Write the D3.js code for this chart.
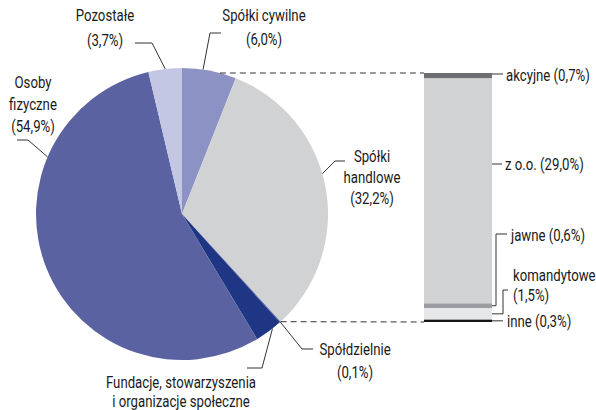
<!DOCTYPE html>
<html>
<head>
<meta charset="utf-8">
<script src="https://cdn.jsdelivr.net/npm/d3@7/dist/d3.min.js"></script>
<style>
  html, body { margin: 0; padding: 0; background: #fff; }
  svg { display: block; }
  text { font-family: Roboto, "Noto Sans", sans-serif; font-size: 16.5px; fill: #1a1a1a; }
</style>
</head>
<body>
<svg id="chart" width="596" height="410"></svg>
<script>
// Pie: legal form shares (%), clockwise from 12 o'clock
const pieCategories = ["Spółki cywilne", "Spółki handlowe", "Spółdzielnie",
  "Fundacje, stowarzyszenia i organizacje społeczne", "Osoby fizyczne", "Pozostałe"];
const pieValues = [6.0, 32.2, 0.1, 3.1, 54.9, 3.7];
const pieColors = ["#8d92c4", "#d1d2d4", "#4a55a0", "#1f3684", "#5b62a1", "#c4c7e3"];
const pieLabelLines = [
  ["Spółki cywilne", "(6,0%)"],
  ["Spółki", "handlowe", "(32,2%)"],
  ["Spółdzielnie", "(0,1%)"],
  ["Fundacje, stowarzyszenia", "i organizacje społeczne"],
  ["Osoby", "fizyczne", "(54,9%)"],
  ["Pozostałe", "(3,7%)"]
];

// Breakdown of "Spółki handlowe", stacked top to bottom
const barCategories = ["akcyjne", "z o.o.", "jawne", "komandytowe", "inne"];
const barValues = [0.7, 29.0, 0.6, 1.5, 0.3];
const barColors = ["#6d6e71", "#d1d2d4", "#9c9da0", "#e6e7e8", "#161616"];
const barLabelLines = [
  ["akcyjne (0,7%)"],
  ["z o.o. (29,0%)"],
  ["jawne (0,6%)"],
  ["komandytowe", "(1,5%)"],
  ["inne (0,3%)"]
];

const svg = d3.select("#chart");
const cx = 182, cy = 214, R = 146;
const ink = "#333";
const narrow = 0.8; // horizontal squeeze for a condensed look

// multi-line label, centred on (x, y) of its first line
function label(x, y, lines, anchor, lh) {
  const t = svg.append("text")
    .attr("text-anchor", anchor)
    .attr("transform", `translate(${x},${y}) scale(${narrow},1)`);
  lines.forEach((s, k) => {
    t.append("tspan").attr("x", 0).attr("y", k * lh).attr("dy", "0.35em").text(s);
  });
}

// ---- pie ----
const pie = d3.pie().sort(null).value(d => d)(pieValues);
const arc = d3.arc().innerRadius(0).outerRadius(R);
const pg = svg.append("g").attr("transform", `translate(${cx},${cy})`);
pg.selectAll("path").data(pie).join("path")
  .attr("d", arc)
  .attr("fill", (d, i) => pieColors[i]);

const deg = Math.PI / 180;
const onRim = a => [cx + R * Math.sin(a), cy - R * Math.cos(a)];

// leader start angle on the rim, elbow points, text centre of first line
const pieLayout = [
  { angle: 8.3 * deg, path: [[210, 33], [221, 33]], x: 264, y: 15, lh: 24 },
  { angle: 74 * deg, path: [[335, 161], [345, 161]], x: 372, y: 156, lh: 21 },
  { angle: null, path: [[302, 349], [313, 349]], x: 355, y: 349, lh: 23 },
  { angle: 141.7 * deg, path: [[262, 368], [247, 368]], x: 181, y: 382, lh: 19 },
  { angle: 293 * deg, path: [[28, 140], [17, 140]], x: 33, y: 82, lh: 22 },
  { angle: -6.6 * deg, path: [[152, 43], [135, 43]], x: 105, y: 15, lh: 25 }
];

const line = d3.line();
pie.forEach((d, i) => {
  const L = pieLayout[i];
  const a = L.angle == null ? (d.startAngle + d.endAngle) / 2 : L.angle;
  svg.append("path").attr("d", line([onRim(a), ...L.path]))
    .attr("fill", "none").attr("stroke", ink).attr("stroke-width", 1);
  label(L.x, L.y, pieLabelLines[i], "middle", L.lh);
});

// ---- stacked bar ----
const barX = 424, barW = 68, barTop = 73, barBottom = 322;
const barTotal = d3.sum(barValues);
const y = d3.scaleLinear().domain([0, barTotal]).range([barTop, barBottom]);
const stacked = [];
let acc = 0;
barValues.forEach((v, i) => { stacked.push({ y0: acc, y1: acc + v, i }); acc += v; });

svg.append("g").selectAll("rect").data(stacked).join("rect")
  .attr("x", barX).attr("width", barW)
  .attr("y", d => y(d.y0)).attr("height", d => y(d.y1) - y(d.y0))
  .attr("fill", d => barColors[d.i]);

// dashed connectors between the "Spółki handlowe" slice and the bar
const hand = pie[1];
const topY = y(0);
const topX = cx + Math.sqrt(R * R - (cy - topY) * (cy - topY));
const endPt = onRim(hand.endAngle);
const dash = g => g.attr("fill", "none").attr("stroke", ink).attr("stroke-width", 1).attr("stroke-dasharray", "6,4");
svg.append("path").attr("d", line([[topX, topY], [barX, topY]])).call(dash);
svg.append("path").attr("d", line([endPt, [barX, y(barTotal)]])).call(dash);

// bar labels with leaders
const bx = barX + barW;
const mid = i => y((stacked[i].y0 + stacked[i].y1) / 2);
const barLayout = [
  { pts: () => [[bx, 74], [503, 74]], x: 506, y: 75 },
  { pts: () => [[bx, 164], [502, 164]], x: 505, y: 164 },
  { pts: () => [[bx, mid(2)], [496, mid(2)], [496, 234], [507, 234]], x: 511, y: 235 },
  { pts: () => [[bx, mid(3)], [503, mid(3)], [503, 290], [508, 290]], x: 513, y: 275 },
  { pts: () => [[bx, mid(4)], [503, mid(4)]], x: 507, y: 321 }
];
barLayout.forEach((L, i) => {
  svg.append("path").attr("d", line(L.pts()))
    .attr("fill", "none").attr("stroke", ink).attr("stroke-width", 1);
  label(L.x, L.y, barLabelLines[i], "start", 20);
});
</script>
</body>
</html>
